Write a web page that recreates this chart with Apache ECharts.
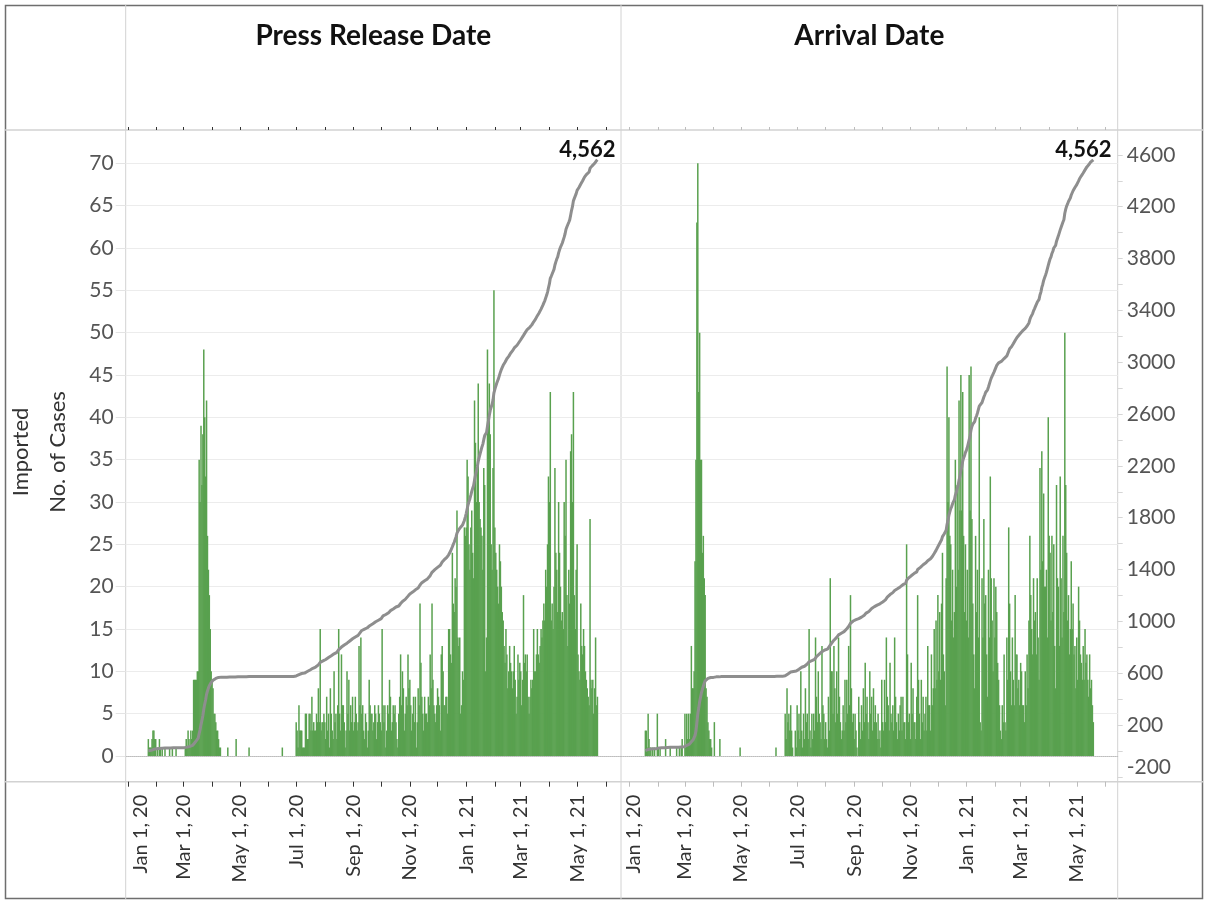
<!DOCTYPE html>
<html>
<head>
<meta charset="UTF-8">
<title>Imported cases</title>
<script src="https://cdn.jsdelivr.net/npm/echarts@6/dist/echarts.min.js"></script>
<style>
  html, body { width: 100%; height: 100%; margin: 0; padding: 0; background: #fff; }
  #chart { width: 1207px; height: 903px; }
</style>
</head>
<body>
<div id="chart"></div>
<script>
var panelTitles = ['Press Release Date', 'Arrival Date'];
var yTitle = ['Imported', 'No. of Cases'];
var caseTicks = [0, 5, 10, 15, 20, 25, 30, 35, 40, 45, 50, 55, 60, 65, 70];
var totalTicks = [-200, 200, 600, 1000, 1400, 1800, 2200, 2600, 3000, 3400, 3800, 4200, 4600];
var totalMinorTicks = [-200, 0, 200, 400, 600, 800, 1000, 1200, 1400, 1600, 1800, 2000, 2200,
  2400, 2600, 2800, 3000, 3200, 3400, 3600, 3800, 4000, 4200, 4400, 4600];

// daily imported cases by press release date, first day 2020-01-23
var pressStart = '2020-01-23';
var pressCases = [
  2,1,1,1,2,3,3,2,2,
  0,1,0,2,1,0,1,0,0,1,0,0,0,0,1,0,0,1,0,0,0,1,0,0,0,0,0,0,0,
  0,0,1,2,1,3,2,1,3,2,3,9,9,9,9,10,10,35,30,39,32,38,48,40,33,42,26,22,19,15,10,
  9,8,5,5,4,3,3,2,1,1,0,0,0,0,0,0,0,1,0,0,0,0,0,0,0,0,2,0,0,0,
  0,0,0,0,0,0,0,0,0,0,1,0,0,0,0,0,0,0,0,0,0,0,0,0,0,0,0,0,0,0,0,
  0,0,0,0,0,0,0,0,0,0,0,0,0,0,0,1,0,0,0,0,0,0,0,0,0,0,0,0,0,0,
  4,3,1,6,3,3,3,1,1,1,5,5,2,2,5,5,3,7,3,4,3,3,5,4,8,4,15,3,4,4,5,
  4,2,7,3,5,1,8,5,3,2,10,4,5,2,6,15,5,3,12,6,6,4,1,3,10,5,9,3,6,4,7,
  3,4,7,5,3,4,13,6,14,5,6,3,2,5,4,1,3,9,6,5,5,3,4,6,5,2,4,6,5,4,
  3,15,6,4,6,1,3,6,5,9,7,3,4,6,5,6,4,2,1,5,7,12,6,10,8,3,5,7,6,12,8,
  9,6,3,5,7,4,7,1,4,8,6,18,11,7,5,3,7,5,5,4,7,6,12,8,18,9,6,5,4,6,
  8,7,6,3,12,13,10,6,6,7,7,5,15,15,12,11,24,18,17,21,20,29,14,13,14,5,6,10,9,27,26,
  27,35,33,25,22,27,29,24,21,42,37,30,34,44,30,28,27,26,22,34,32,10,14,48,40,44,38,25,22,34,55,
  27,24,22,20,18,25,23,20,17,16,13,11,15,12,8,10,13,11,10,8,10,13,9,5,7,12,9,11,
  10,6,9,19,11,12,10,12,7,5,7,9,8,9,15,10,10,12,15,12,11,13,15,14,16,18,16,22,20,25,33,
  30,43,16,18,15,20,34,24,22,17,30,24,20,16,17,15,30,26,35,19,13,22,18,36,38,30,43,19,15,22,
  25,12,10,9,18,13,12,15,13,10,9,8,7,6,28,9,8,9,5,8,14,6,7
];

// daily imported cases by arrival date, first day 2020-01-18
var arrivalStart = '2020-01-18';
var arrivalCases = [
  3,3,1,5,2,1,1,0,1,0,1,0,0,5,
  1,0,1,0,0,0,0,0,2,0,0,0,0,1,0,0,0,0,0,0,1,0,0,1,0,1,2,0,0,
  5,1,5,2,5,2,5,13,8,8,10,23,35,63,70,43,50,35,35,24,26,21,19,8,7,4,3,2,2,1,0,
  0,4,0,0,0,0,0,2,0,0,0,0,0,0,0,0,0,0,0,0,0,0,0,0,0,0,0,0,0,1,
  0,0,0,0,0,0,0,0,0,0,0,0,0,0,0,0,0,0,0,0,0,0,0,0,0,0,0,0,0,0,0,
  0,0,0,0,0,0,0,1,0,0,0,0,0,0,0,0,0,5,2,8,4,5,3,6,3,1,0,0,3,1,
  6,3,5,2,10,
  3,1,5,2,8,4,5,2,15,3,1,5,2,5,3,14,7,4,
  10,5,4,2,13,6,5,2,4,2,1,7,3,21,10,10,5,13,
  8,4,10,5,14,7,4,2,3,6,3,9,4,9,5,13,6,19,
  8,4,5,2,5,3,1,0,7,4,2,6,3,8,4,11,5,7,
  4,2,10,5,7,3,8,4,6,4,2,5,2,3,1,9,4,3,
  9,4,14,7,6,3,11,5,4,6,3,14,7,4,2,5,3,6,
  7,3,7,4,4,2,25,12,4,5,2,11,5,8,4,4,2,7,
  19,9,5,2,9,4,7,3,5,7,3,13,6,6,3,12,6,8,
  15,8,16,9,19,10,17,9,18,24,12,10,6,21,
  46,30,40,26,25,16,22,14,17,
  35,20,32,22,42,29,45,29,43,
  26,17,25,16,22,14,45,29,46,
  28,18,12,8,26,17,22,14,40,
  4,3,21,14,28,18,19,12,7,
  22,14,33,21,16,10,21,14,20,
  17,11,9,6,3,2,6,4,12,
  4,3,14,9,27,18,10,6,14,
  9,6,19,12,12,8,9,6,11,
  10,6,6,4,10,6,12,8,16,
  26,19,15,12,21,16,17,12,21,
  14,9,34,22,36,23,31,20,20,
  22,14,40,26,24,16,26,17,25,
  13,8,32,21,20,13,33,21,14,
  26,17,50,32,24,16,19,12,15,
  23,15,18,12,13,8,14,9,20,
  16,12,11,9,13,9,15,11,12,
  9,7,12,8,9,6,4
];

var MONTHS = ['Jan', 'Feb', 'Mar', 'Apr', 'May', 'Jun', 'Jul', 'Aug', 'Sep', 'Oct', 'Nov', 'Dec'];

function dayList(from, to) {
  var out = [];
  var t = Date.parse(from + 'T00:00:00Z');
  var end = Date.parse(to + 'T00:00:00Z');
  for (; t <= end; t += 86400000) out.push(new Date(t).toISOString().slice(0, 10));
  return out;
}

function dateLabel(v) {
  var p = v.split('-');
  return MONTHS[+p[1] - 1] + ' ' + (+p[2]) + ', ' + p[0].slice(2);
}

function isMonthStart(i, v) { return v.slice(8) === '01'; }
function isOddMonthStart(i, v) { return v.slice(8) === '01' && (+v.slice(5, 7)) % 2 === 1; }

function place(cats, start, values) {
  var off = cats.indexOf(start);
  return cats.map(function (c, i) {
    var k = i - off;
    return (k >= 0 && k < values.length) ? values[k] : '-';
  });
}

function runningTotal(values) {
  var s = 0;
  return values.map(function (v) { s += v; return s; });
}

// layout, px
var W = 1207, H = 903;
var HEAD = 130, FOOT = 781.7;
var BAR_TOP = 163.3, BAR_ZERO = 756;
var TOT_ZERO = 751, TOT_PX = 0.1296;
var totMin = -(FOOT - TOT_ZERO) / TOT_PX;
var totMax = (TOT_ZERO - HEAD) / TOT_PX;
var FONT = 'Lato';

// firstPad nudges the first date label inside the pane, as the original does
var panels = [
  { left: 125.7, right: 621, cats: dayList('2019-12-30', '2021-06-17'),
    start: pressStart, cases: pressCases, tick: '#333', first: true, firstPad: 26 },
  { left: 621, right: 1117.7, cats: dayList('2019-12-23', '2021-06-14'),
    start: arrivalStart, cases: arrivalCases, tick: '#bdbdbd', first: false, firstPad: 8 }
];

var grid = [], xAxis = [], yAxis = [], series = [];

panels.forEach(function (p, n) {
  var gBar = grid.length, gTot = gBar + 1;
  grid.push({ left: p.left, right: W - p.right, top: BAR_TOP, bottom: H - BAR_ZERO, outerBoundsMode: 'none' });
  grid.push({ left: p.left, right: W - p.right, top: HEAD, bottom: H - FOOT, outerBoundsMode: 'none' });

  var firstLabel = p.cats.filter(function (v, i) { return isOddMonthStart(i, v); })[0];

  var xBar = xAxis.length;
  xAxis.push({
    type: 'category', gridIndex: gBar, data: p.cats,
    axisLine: { onZero: false, lineStyle: { color: '#bdbdbd', type: 'dotted', width: 1 } },
    axisTick: { show: false }, axisLabel: { show: false }, splitLine: { show: false }
  });
  xAxis.push({
    type: 'category', gridIndex: gTot, data: p.cats, position: 'bottom',
    axisLine: { show: false, onZero: false },
    axisTick: { show: true, alignWithLabel: true, interval: isMonthStart, length: 5,
      lineStyle: { color: p.tick, width: 1 } },
    axisLabel: {
      interval: isOddMonthStart, rotate: 90, margin: 13,
      formatter: function (v) { return v === firstLabel ? '{first|' + dateLabel(v) + '}' : dateLabel(v); },
      rich: { first: { padding: [p.firstPad, 0, 0, 0], fontFamily: FONT, fontSize: 20, color: '#333' } },
      fontFamily: FONT, fontSize: 20, color: '#333'
    },
    splitLine: { show: false }
  });
  xAxis.push({
    type: 'category', gridIndex: gTot, data: p.cats, position: 'top',
    axisLine: { show: false, onZero: false },
    axisTick: { show: true, alignWithLabel: true, interval: isMonthStart, length: 3,
      lineStyle: { color: p.tick, width: 1 } },
    axisLabel: { show: false }, splitLine: { show: false }
  });

  var yBar = yAxis.length;
  yAxis.push({
    type: 'value', gridIndex: gBar, position: 'left',
    min: caseTicks[0], max: caseTicks[caseTicks.length - 1], interval: caseTicks[1] - caseTicks[0],
    axisLine: { show: false, onZero: false },
    axisTick: { show: p.first, length: 10, lineStyle: { color: '#e4e4e4' } },
    axisLabel: { show: p.first, margin: 12, fontFamily: FONT, fontSize: 21, color: '#555' },
    splitLine: { show: true, lineStyle: { color: '#ececec', width: 1 } }
  });
  yAxis.push({
    type: 'value', gridIndex: gTot, position: 'right', min: totMin, max: totMax,
    axisLine: { show: false, onZero: false },
    axisTick: { show: !p.first, customValues: totalMinorTicks, length: 5, lineStyle: { color: '#d6d6d6' } },
    axisLabel: {
      show: !p.first, customValues: totalTicks, margin: 9,
      fontFamily: FONT, fontSize: 21, color: '#555',
      formatter: function (v) { return v === totalTicks[0] ? '{lo|' + v + '}' : String(v); },
      rich: { lo: { padding: [0, 0, 20, 0], fontFamily: FONT, fontSize: 21, color: '#555' } }
    },
    splitLine: { show: false }
  });

  series.push({
    type: 'bar', xAxisIndex: xBar, yAxisIndex: yBar, silent: true,
    data: place(p.cats, p.start, p.cases),
    barWidth: 1.5,
    itemStyle: { color: '#59a14f' }
  });

  var totals = place(p.cats, p.start, runningTotal(p.cases));
  var lastIdx = totals.length - 1;
  while (totals[lastIdx] === '-') lastIdx--;
  var lineData = totals.map(function (v, i) {
    if (i !== lastIdx) return v;
    return {
      value: v,
      label: {
        show: true, position: 'top', offset: [-10, 6],
        formatter: function (o) { return Number(o.value).toLocaleString('en-US'); },
        fontFamily: FONT, fontSize: 22, fontWeight: 'bold', color: '#111'
      }
    };
  });
  series.push({
    type: 'line', xAxisIndex: xBar + 1, yAxisIndex: yBar + 1, silent: true,
    data: lineData,
    showSymbol: true, showAllSymbol: true, symbol: 'circle', symbolSize: 0,
    lineStyle: { color: '#8e8e8e', width: 3 },
    itemStyle: { color: '#8e8e8e' },
    label: { show: false },
    z: 5
  });
});

var border = '#d2d2d2';
var graphic = [
  { type: 'rect', shape: { x: 5.5, y: 5.5, width: 1197, height: 893 },
    style: { fill: 'none', stroke: '#6e6e6e', lineWidth: 1.5 }, silent: true },
  { type: 'line', shape: { x1: 5, y1: HEAD, x2: 1203, y2: HEAD }, style: { stroke: border, lineWidth: 1.5 }, silent: true },
  { type: 'line', shape: { x1: 5, y1: FOOT, x2: 1203, y2: FOOT }, style: { stroke: border, lineWidth: 1.5 }, silent: true }
];
[125.7, 621, 1117.7].forEach(function (x) {
  graphic.push({ type: 'line', shape: { x1: x, y1: 5, x2: x, y2: 899 }, style: { stroke: border, lineWidth: 1 }, silent: true });
});
panels.forEach(function (p, n) {
  graphic.push({
    type: 'text', x: (p.left + p.right) / 2, y: 36, silent: true,
    style: { text: panelTitles[n], align: 'center', verticalAlign: 'middle',
      fontFamily: FONT, fontSize: 28, fontWeight: 'bold', fill: '#111' }
  });
});
graphic.push({
  type: 'text', x: 21, y: 452, rotation: Math.PI / 2, silent: true,
  style: { text: yTitle[0], align: 'center', verticalAlign: 'middle', fontFamily: FONT, fontSize: 22, fill: '#333' }
});
graphic.push({
  type: 'text', x: 58, y: 452, rotation: Math.PI / 2, silent: true,
  style: { text: yTitle[1], align: 'center', verticalAlign: 'middle', fontFamily: FONT, fontSize: 22, fill: '#333' }
});

var chart = echarts.init(document.getElementById('chart'));
chart.setOption({
  animation: false,
  backgroundColor: '#fff',
  grid: grid,
  xAxis: xAxis,
  yAxis: yAxis,
  series: series,
  graphic: graphic
});
</script>
</body>
</html>
